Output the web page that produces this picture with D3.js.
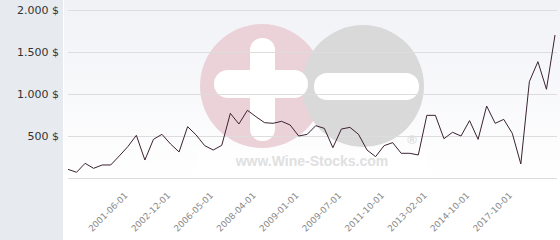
<!DOCTYPE html>
<html>
<head>
<meta charset="utf-8">
<script src="https://cdn.jsdelivr.net/npm/d3@7"></script>
<style>
  body { margin: 0; background: #fff; }
  svg { display: block; }
</style>
</head>
<body>
<svg id="chart"></svg>
<script>
// prices in $, one per observation (58 points)
const prices = [
  103, 68, 175, 115, 155, 155, 262, 373, 508, 214,
  460, 520, 405, 310, 611, 512, 385, 333, 389, 770,
  643, 806, 730, 659, 651, 675, 631, 500, 520, 623,
  591, 361, 583, 603, 520, 333, 254, 385, 421, 294,
  294, 274, 746, 746, 468, 544, 500, 683, 460, 857,
  651, 698, 532, 167, 1147, 1385, 1056, 1702
];
// labelled observations on the x axis
const tickIndex = [7, 12, 17, 22, 27, 32, 37, 42, 47, 52];
const tickLabels = ['2001-06-01', '2002-12-01', '2006-05-01', '2008-04-01', '2009-01-01',
  '2009-07-01', '2011-10-01', '2013-02-01', '2014-10-01', '2017-10-01'];
const yTicks = [500, 1000, 1500, 2000];

const width = 560, height = 240;
const plotLeft = 63, plotBottom = 178;

const svg = d3.select('#chart')
  .attr('width', width)
  .attr('height', height);

const defs = svg.append('defs');
const grad = defs.append('linearGradient')
  .attr('id', 'bg').attr('x1', 0).attr('y1', 0).attr('x2', 0).attr('y2', 1);
grad.append('stop').attr('offset', '0%').attr('stop-color', '#f1f2f6');
grad.append('stop').attr('offset', '100%').attr('stop-color', '#ffffff');

// left panel
svg.append('rect')
  .attr('x', 0).attr('y', 0)
  .attr('width', plotLeft).attr('height', height)
  .attr('fill', '#e7eaee');

// plot background
svg.append('rect')
  .attr('x', plotLeft + 1).attr('y', 0)
  .attr('width', width - plotLeft - 1).attr('height', plotBottom + 2)
  .attr('fill', 'url(#bg)');

const x = d3.scalePoint()
  .domain(d3.range(prices.length))
  .range([68, 555]);

const y = d3.scaleLinear()
  .domain([0, 2000])
  .range([plotBottom, 10]);

// watermark (under the grid)
const wm = svg.append('g').attr('class', 'watermark');
wm.append('rect')
  .attr('x', 197).attr('y', 150)
  .attr('width', 230).attr('height', 24)
  .attr('fill', '#ffffff').attr('opacity', 0.5);
wm.append('circle')
  .attr('cx', 262).attr('cy', 86).attr('r', 62)
  .attr('fill', '#ebd2d9');
wm.append('rect')
  .attr('x', 250).attr('y', 38).attr('width', 25).attr('height', 103).attr('rx', 12)
  .attr('fill', '#ffffff');
wm.append('circle')
  .attr('cx', 363).attr('cy', 86).attr('r', 61)
  .attr('fill', '#d9d9da');
wm.append('rect')
  .attr('x', 214).attr('y', 70).attr('width', 94).attr('height', 28).attr('rx', 14)
  .attr('fill', '#ffffff');
wm.append('rect')
  .attr('x', 314).attr('y', 73).attr('width', 105).attr('height', 27).attr('rx', 13)
  .attr('fill', '#ffffff');
wm.append('text')
  .attr('x', 312).attr('y', 166)
  .attr('text-anchor', 'middle')
  .attr('font-family', 'Liberation Sans')
  .attr('font-weight', 'bold')
  .attr('font-size', 14)
  .attr('fill', '#e0e0e0')
  .text('www.Wine-Stocks.com');
wm.append('text')
  .attr('x', 412).attr('y', 144)
  .attr('text-anchor', 'middle')
  .attr('font-family', 'Liberation Sans')
  .attr('font-weight', 'bold')
  .attr('font-size', 13)
  .attr('fill', '#dcdcdc')
  .text('®');

// gridlines
svg.append('g')
  .selectAll('line')
  .data([0].concat(yTicks))
  .join('line')
  .attr('x1', 68).attr('x2', 557)
  .attr('y1', d => Math.round(y(d)) + 0.5)
  .attr('y2', d => Math.round(y(d)) + 0.5)
  .attr('stroke', '#dddddd')
  .attr('stroke-width', 1);

// y labels
const fmt = v => d3.format(',')(v).replace(/,/g, '.') + ' $';
svg.append('g')
  .selectAll('text')
  .data(yTicks)
  .join('text')
  .attr('x', 59)
  .attr('y', d => y(d))
  .attr('dy', '0.35em')
  .attr('text-anchor', 'end')
  .attr('font-family', 'DejaVu Sans')
  .attr('font-size', 11)
  .attr('fill', '#333')
  .text(fmt);

// price line
const line = d3.line()
  .x((d, i) => x(i))
  .y(d => y(d));

svg.append('path')
  .datum(prices)
  .attr('d', line)
  .attr('fill', 'none')
  .attr('stroke', '#3b2232')
  .attr('stroke-width', 1)
  .attr('stroke-linejoin', 'miter');

// x labels
svg.append('g')
  .selectAll('text')
  .data(tickIndex)
  .join('text')
  .attr('transform', d => `translate(${x(d) + 0.5},196) rotate(-45)`)
  .attr('text-anchor', 'end')
  .attr('font-family', 'DejaVu Sans')
  .attr('font-size', 8.8)
  .attr('fill', '#888')
  .text((d, i) => tickLabels[i]);
</script>
</body>
</html>
